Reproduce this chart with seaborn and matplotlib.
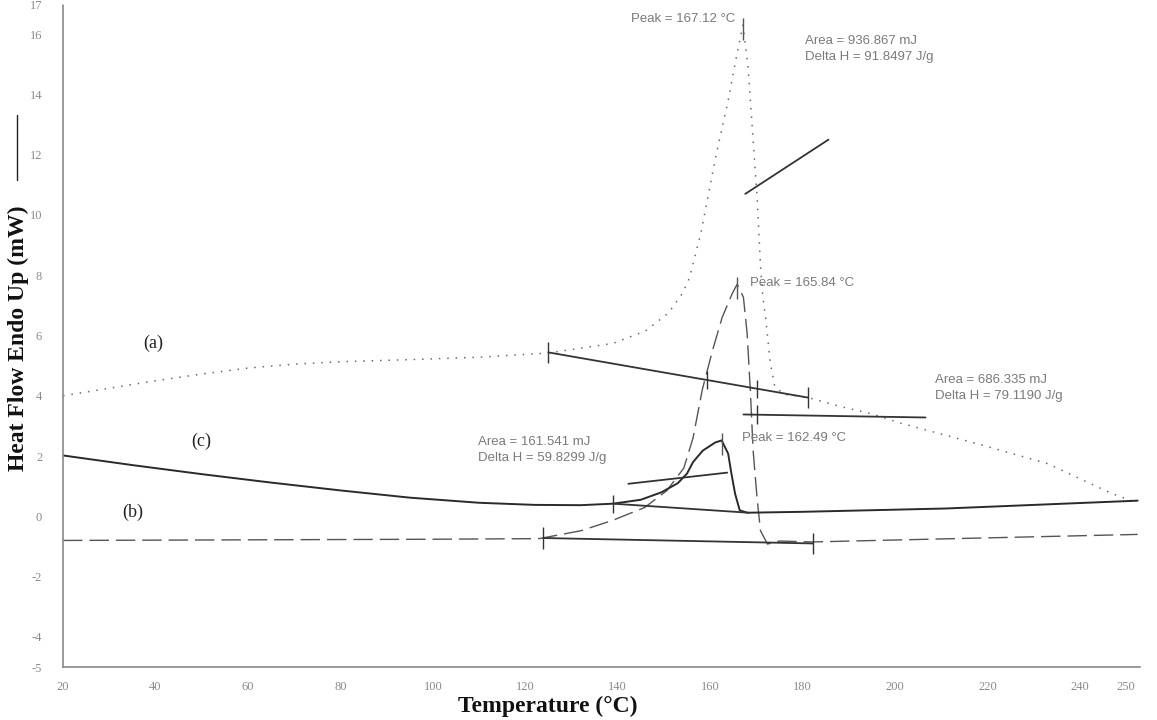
import numpy as np
import pandas as pd
import matplotlib
matplotlib.use("Agg")
import matplotlib.pyplot as plt
from matplotlib.lines import Line2D
import seaborn as sns

# ---- DSC traces (temperature in °C, heat flow in mW) ----
temp_a = [20, 30, 40, 50, 60, 70, 80, 95, 110, 125, 139, 146, 151, 154, 155.5, 158, 161.3, 163.9,
          166.0, 167.12, 168.2, 169.2, 170.2, 170.9, 171.4, 172.0, 173.0, 174.0, 176, 181, 188,
          195, 201, 218, 233, 247, 251.5]
flow_a = [4.0, 4.25, 4.5, 4.72, 4.92, 5.05, 5.13, 5.2, 5.28, 5.42, 5.74, 6.15, 6.75, 7.4, 7.9,
          9.4, 12.0, 13.8, 15.5, 16.3, 14.9, 12.7, 10.5, 8.3, 7.3, 6.6, 5.1, 4.3, 4.05, 3.95,
          3.65, 3.4, 3.1, 2.4, 1.75, 0.75, 0.5]

temp_b = [20, 60, 100, 123, 132, 138.8, 145.8, 150.6, 154.3, 156.3, 158.3, 160.5, 162.6, 164.8,
          165.84, 167.2, 168.0, 168.7, 169.3, 170.2, 170.9, 172.4, 175, 182, 210, 252.5]
flow_b = [-0.8, -0.78, -0.76, -0.74, -0.48, -0.14, 0.29, 0.85, 1.6, 2.6, 4.2, 5.5, 6.6, 7.4,
          7.7, 7.27, 6.07, 4.17, 2.18, 0.52, -0.48, -0.92, -0.82, -0.85, -0.75, -0.6]

temp_c = [20, 35, 50, 65, 80, 95, 110, 122, 132, 139, 145, 149.5, 153, 155, 156.3, 158.4,
          161.1, 162.49, 163.9, 164.6, 165.4, 166.4, 168, 180, 211, 252.5]
flow_c = [2.02, 1.7, 1.4, 1.12, 0.86, 0.62, 0.45, 0.38, 0.37, 0.42, 0.55, 0.8, 1.1, 1.42, 1.8,
          2.18, 2.45, 2.52, 2.08, 1.42, 0.75, 0.2, 0.12, 0.15, 0.26, 0.52]

# ---- integration baselines / construction lines ----
base_a_t, base_a_v = [125, 181.2], [5.44, 3.94]
base_b_t, base_b_v = [123.9, 182.3], [-0.72, -0.9]
base_c_t, base_c_v = [139, 168.3], [0.42, 0.12]
tang_c_t, tang_c_v = [142.3, 163.7], [1.08, 1.45]
level_b_t, level_b_v = [167.2, 206.6], [3.38, 3.28]
lead_a_t, lead_a_v = [167.6, 185.6], [10.7, 12.5]
onset_marks_t = [159.4, 170.2]

peaks_t = [167.12, 165.84, 162.49]
peaks_v = [16.3, 7.7, 2.52]

x_ticks = [20, 40, 60, 80, 100, 120, 140, 160, 180, 200, 220, 240, 250]
y_ticks = [-5, -4, -2, 0, 2, 4, 6, 8, 10, 12, 14, 16, 17]

sns.set_theme(style="white")
plt.rcParams["font.family"] = ["DejaVu Sans"]

fig = plt.figure(figsize=(11.57, 7.2), dpi=100)
ax = fig.add_axes([0.0545, 0.0736, 0.9308, 0.9208])

df_a = pd.DataFrame({"T": temp_a, "HF": flow_a})
df_b = pd.DataFrame({"T": temp_b, "HF": flow_b})
df_c = pd.DataFrame({"T": temp_c, "HF": flow_c})

sns.lineplot(data=df_a, x="T", y="HF", ax=ax, sort=False, estimator=None,
             color="#6a6a6a", linewidth=1.1, linestyle=(0, (1, 4.5)))
sns.lineplot(data=df_b, x="T", y="HF", ax=ax, sort=False, estimator=None,
             color="#555555", linewidth=1.0, linestyle=(0, (14, 5)))
sns.lineplot(data=df_c, x="T", y="HF", ax=ax, sort=False, estimator=None,
             color="#2a2a2a", linewidth=1.4)

ink = "#333333"
for t, v in [(base_a_t, base_a_v), (base_b_t, base_b_v), (base_c_t, base_c_v),
             (tang_c_t, tang_c_v), (level_b_t, level_b_v), (lead_a_t, lead_a_v)]:
    ax.plot(t, v, color=ink, linewidth=1.3)

# end marks on the baselines
for t, v in [(base_a_t, base_a_v), (base_b_t, base_b_v)]:
    for ti, vi in zip(t, v):
        ax.vlines(ti, vi - 0.35, vi + 0.35, color=ink, linewidth=1.0)
ax.vlines(base_c_t[0], base_c_v[0] - 0.3, base_c_v[0] + 0.3, color=ink, linewidth=1.0)
slope_a = (base_a_v[1] - base_a_v[0]) / (base_a_t[1] - base_a_t[0])
for tm in onset_marks_t:
    vm = base_a_v[0] + slope_a * (tm - base_a_t[0])
    ax.vlines(tm, vm - 0.3, vm + 0.3, color=ink, linewidth=1.0)
ax.vlines(onset_marks_t[1], level_b_v[0] - 0.3, level_b_v[0] + 0.3, color=ink, linewidth=1.0)

# peak marks
for tp, vp in zip(peaks_t, peaks_v):
    ax.vlines(tp, vp - 0.5, vp + 0.25, color="#555555", linewidth=1.0)

# annotations
note = dict(color="#7a7a7a", fontsize=9.5, family="Liberation Sans")
ax.text(165.4, 16.5, f"Peak = {peaks_t[0]:.2f} °C", ha="right", va="center", **note)
ax.text(180.6, 15.5, "Area = 936.867 mJ\nDelta H = 91.8497 J/g", ha="left", va="center",
        linespacing=1.4, **note)
ax.text(168.7, 7.75, f"Peak = {peaks_t[1]:.2f} °C", ha="left", va="center", **note)
ax.text(208.7, 4.25, "Area = 686.335 mJ\nDelta H = 79.1190 J/g", ha="left", va="center",
        linespacing=1.4, **note)
ax.text(167.0, 2.6, f"Peak = {peaks_t[2]:.2f} °C", ha="left", va="center", **note)
ax.text(109.8, 2.2, "Area = 161.541 mJ\nDelta H = 59.8299 J/g", ha="left", va="center",
        linespacing=1.4, **note)

curve_tag = dict(color="#222222", fontsize=13, family="Liberation Serif", ha="center", va="center")
ax.text(39.5, 5.75, "(a)", **curve_tag)
ax.text(50.0, 2.5, "(c)", **curve_tag)
ax.text(35.0, 0.12, "(b)", **curve_tag)

ax.set_xlim(20, 253)
ax.set_ylim(-5, 17)
ax.set_xticks(x_ticks)
ax.set_yticks(y_ticks)
ax.set_xticklabels([str(t) for t in x_ticks], family="Liberation Serif", fontsize=9, color="#8a8a8a")
ax.set_yticklabels([str(t) for t in y_ticks], family="Liberation Serif", fontsize=9, color="#8a8a8a")
ax.tick_params(axis="x", direction="in", length=4, color="#888888", pad=10)
ax.tick_params(axis="y", direction="out", length=3, color="#888888", pad=12)

for side in ["top", "right"]:
    ax.spines[side].set_visible(False)
for side in ["left", "bottom"]:
    ax.spines[side].set_color("#8a8a8a")
    ax.spines[side].set_linewidth(1.2)
    ax.spines[side].set_linestyle((0, (1, 1)))

ax.set_xlabel("Temperature (°C)", family="Liberation Serif", fontweight="bold",
              fontsize=17, color="#111111")
ax.xaxis.set_label_coords(0.45, -0.044)
ax.set_ylabel("")
fig.text(0.016, 0.53, "Heat Flow Endo Up (mW)", rotation=90, ha="center", va="center",
         family="Liberation Serif", fontweight="bold", fontsize=17, color="#111111")
# line-style key next to the axis title
fig.add_artist(Line2D([0.0145, 0.0145], [0.75, 0.84], transform=fig.transFigure,
                      color="#222222", linewidth=1.0))

fig.savefig("out.png", dpi=100, facecolor="white")
